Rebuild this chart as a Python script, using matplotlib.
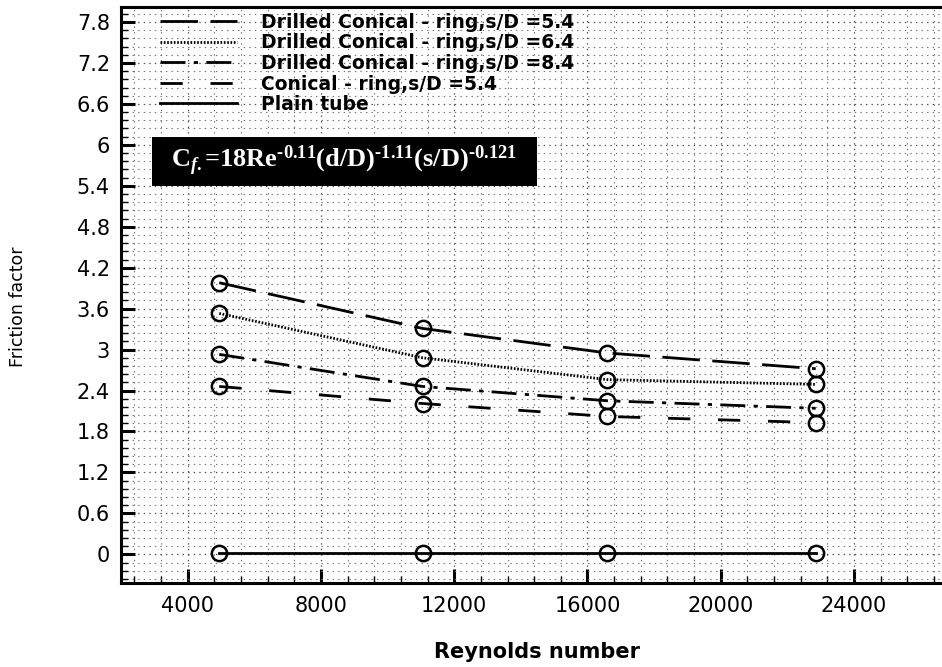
import matplotlib
matplotlib.use('Agg')
import matplotlib.pyplot as plt
from matplotlib.ticker import MultipleLocator, FuncFormatter
from matplotlib.patches import Rectangle

plt.rcParams['font.family'] = ['DejaVu Sans']
plt.rcParams['mathtext.fontset'] = 'custom'
plt.rcParams['mathtext.rm'] = 'Liberation Serif:bold'
plt.rcParams['mathtext.it'] = 'Liberation Serif:italic:bold'
plt.rcParams['mathtext.bf'] = 'Liberation Serif:bold'
plt.rcParams['lines.scale_dashes'] = False

# data
reynolds = [4950, 11050, 16600, 22850]
drilled_54 = [3.98, 3.31, 2.95, 2.72]
drilled_64 = [3.53, 2.88, 2.56, 2.49]
drilled_84 = [2.93, 2.46, 2.25, 2.14]
conical_54 = [2.46, 2.21, 2.02, 1.93]
plain_tube = [0.02, 0.02, 0.02, 0.02]

labels = ['Drilled Conical - ring,s/D =5.4',
          'Drilled Conical - ring,s/D =6.4',
          'Drilled Conical - ring,s/D =8.4',
          'Conical - ring,s/D =5.4',
          'Plain tube']
series = [drilled_54, drilled_64, drilled_84, conical_54, plain_tube]
styles = [(0, (27, 9)), (0, (1.2, 1.2)), (0, (18, 6, 3, 6)), (0, (16, 20)), '-']

fig = plt.figure(figsize=(9.42, 6.67), dpi=100)
ax = fig.add_axes([121 / 942, 84 / 667, 833 / 942, 576 / 667])

handles = []
for vals, ls, lab in zip(series, styles, labels):
    h, = ax.plot(reynolds, vals, color='black', lw=2, linestyle=ls, label=lab)
    ax.plot(reynolds, vals, linestyle='none', marker='o', ms=11, mfc='none',
            mec='black', mew=1.8)
    handles.append(h)

ax.set_xlim(2000, 27000)
ax.set_ylim(-0.42, 8.02)
ax.set_xticks(range(4000, 26000, 4000))
ax.set_yticks([i * 0.6 for i in range(14)])
ax.yaxis.set_major_formatter(FuncFormatter(lambda v, p: f'{round(v, 1):g}'))
ax.xaxis.set_minor_locator(MultipleLocator(800))
ax.yaxis.set_minor_locator(MultipleLocator(0.12))

ax.tick_params(which='major', direction='in', length=10, width=2.2,
               labelsize=15, pad=8)
ax.tick_params(which='minor', direction='in', length=5, width=1)
ax.tick_params(axis='x', which='major', pad=9)

ax.grid(which='major', color='0.3', linestyle=(0, (1, 3)), lw=0.9)
ax.grid(which='minor', color='0.45', linestyle=(0, (1, 3)), lw=0.8)
for sp in ax.spines.values():
    sp.set_linewidth(2.2)
ax.spines['right'].set_visible(False)

ax.set_xlabel('Reynolds number', fontsize=15, fontweight='bold', labelpad=19)
ax.set_ylabel('Friction factor', fontsize=12.5)
ax.yaxis.set_label_coords(-0.113, 0.48)

ax.legend(handles=handles, loc='upper left', frameon=False,
          bbox_to_anchor=(160 / 942, 1 - 13 / 667),
          bbox_transform=fig.transFigure, borderpad=0, borderaxespad=0,
          prop={'size': 13.5, 'weight': 'bold'}, handlelength=4.1,
          handletextpad=1.3, labelspacing=0.08)

ax.add_patch(Rectangle((0.0372, 0.689), 0.4622, 0.085, transform=ax.transAxes,
                       facecolor='black', edgecolor='none', zorder=5))
ax.text(0.268, 0.733,
        'C$_{\\mathit{f.}}$=18Re$^{\u20100.11}$(d/D)$^{\u20101.11}$(s/D)$^{\u20100.121}$',
        transform=ax.transAxes, ha='center', va='center', color='white',
        fontsize=19, fontfamily='Liberation Serif', fontweight='bold', zorder=6)

fig.savefig('out.png', dpi=100)
